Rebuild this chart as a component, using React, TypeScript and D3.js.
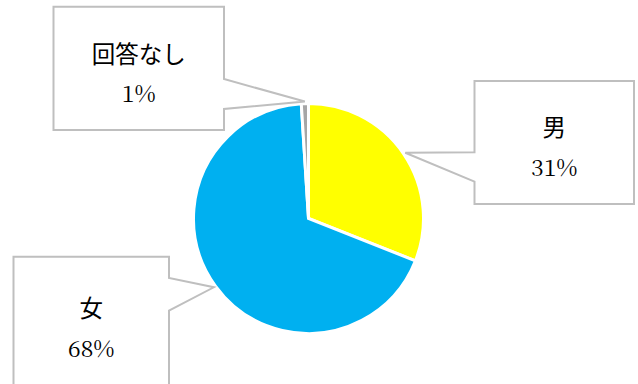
import React from "react";
import * as d3 from "d3";

const categories = ["男", "女", "回答なし"];
const values = [31, 68, 1];
const percentLabels = ["31%", "68%", "1%"];
const sliceColors = ["#FFFF00", "#00B0F0", "#A6A6A6"];

const W = 638;
const H = 384;
const CX = 308.5;
const CY = 218.5;
const R = 115;

type Box = { x0: number; y0: number; x1: number; y1: number; side: "left" | "right"; p0: number; p1: number; nameY: number; pctY: number };

const boxes: Box[] = [
  { x0: 474.5, y0: 81, x1: 634, y1: 204, side: "left", p0: 152.3, p1: 181.7, nameY: 125.5, pctY: 176 },
  { x0: 13.5, y0: 256.7, x1: 169, y1: 390, side: "right", p0: 278, p1: 310.7, nameY: 307, pctY: 357 },
  { x0: 53.5, y0: 6.7, x1: 224, y1: 130, side: "right", p0: 79, p1: 109, nameY: 53, pctY: 102 },
];

export default function App() {
  const pie = d3
    .pie<number>()
    .sort(null)
    .value((d) => d)
    .startAngle(0)
    .endAngle(2 * Math.PI);
  const arcs = pie(values);
  const arc = d3.arc<d3.PieArcDatum<number>>().innerRadius(0).outerRadius(R);
  const tipArc = d3.arc<d3.PieArcDatum<number>>().innerRadius(R + 2).outerRadius(R + 2);

  return (
    <svg width={W} height={H} style={{ position: "absolute", left: 0, top: 0, background: "#fff" }}>
      <g transform={`translate(${CX},${CY})`}>
        {arcs.map((a, i) => (
          <path key={i} d={arc(a) || ""} fill={sliceColors[i]} stroke="#fff" strokeWidth={3} strokeLinejoin="miter" />
        ))}
      </g>
      {arcs.map((a, i) => {
        const b = boxes[i];
        const [tx0, ty0] = tipArc.centroid(a);
        const tx = tx0 + CX;
        const ty = ty0 + CY;
        const d =
          b.side === "right"
            ? `M${b.x0},${b.y0}H${b.x1}V${b.p0}L${tx},${ty}L${b.x1},${b.p1}V${b.y1}H${b.x0}Z`
            : `M${b.x0},${b.y0}H${b.x1}V${b.y1}H${b.x0}V${b.p1}L${tx},${ty}L${b.x0},${b.p0}Z`;
        const cx = (b.x0 + b.x1) / 2;
        return (
          <g key={"c" + i}>
            <path d={d} fill="#fff" stroke="#BFBFBF" strokeWidth={2} />
            <text
              x={cx}
              y={b.nameY}
              textAnchor="middle"
              dominantBaseline="central"
              fontFamily="Noto Sans CJK JP"
              fontSize={23.5}
              fill="#000"
            >
              {categories[i]}
            </text>
            <text x={cx} y={b.pctY} textAnchor="middle" fontFamily="Noto Serif CJK JP" fontSize={23} fill="#000">
              {percentLabels[i]}
            </text>
          </g>
        );
      })}
    </svg>
  );
}
